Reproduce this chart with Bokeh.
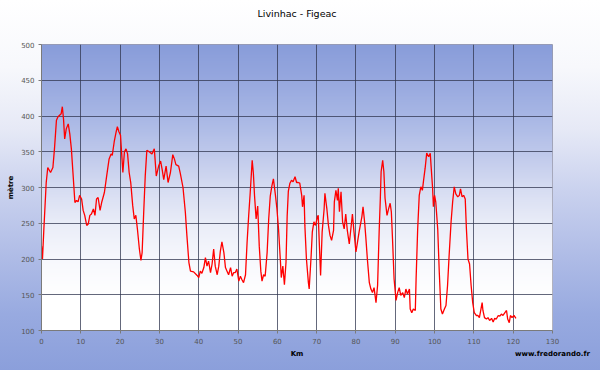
import numpy as np
from bokeh.plotting import figure
from bokeh.models import Range1d, FixedTicker, LinearAxis, Title
from bokeh.embed import file_html
from bokeh.resources import INLINE

# ---- data ----
km = [0.0, 0.25, 0.6, 1.2, 1.6, 2.3, 2.9, 3.3, 3.8, 4.2, 4.6, 5.0, 5.3, 5.6, 5.9, 6.3, 6.8, 7.2, 7.6, 8.0,
      8.5, 8.9, 9.3, 9.7, 10.2, 10.6, 11.0, 11.5, 11.9, 12.3, 12.7, 13.2, 13.6, 14.0, 14.4, 14.9, 15.3, 16.0,
      16.6, 17.2, 17.7, 18.0, 18.5, 19.0, 19.3, 19.7, 20.1, 20.4, 20.7, 21.1, 21.5, 21.9, 22.3, 22.7, 23.2,
      23.6, 24.0, 24.4, 24.9, 25.3, 25.6, 26.0, 26.4, 26.8, 27.4, 28.1, 28.7, 29.2, 29.8, 30.3, 30.7, 31.1,
      31.7, 32.2, 32.8, 33.4, 33.8, 34.2, 34.9, 35.3, 36.0, 36.6, 37.0, 37.5, 37.9, 38.7, 39.6, 40.0, 40.4,
      40.8, 41.3, 41.7, 42.1, 42.5, 43.0, 43.4, 43.8, 44.2, 44.7, 45.1, 45.5, 45.9, 46.4, 46.8, 47.2, 47.6,
      48.1, 48.5, 48.9, 49.3, 49.7, 50.2, 50.6, 51.0, 51.4, 51.9, 52.3, 52.7, 53.1, 53.4, 53.6, 53.9, 54.2,
      54.6, 55.0, 55.4, 55.8, 56.1, 56.5, 56.9, 57.4, 57.8, 58.2, 58.6, 59.0, 59.5, 59.9, 60.3, 60.8, 61.0,
      61.4, 61.8, 62.2, 62.5, 62.8, 63.2, 63.6, 64.0, 64.5, 64.9, 65.3, 65.7, 66.2, 66.4, 66.8, 67.0, 67.4,
      67.9, 68.1, 68.6, 68.9, 69.3, 69.7, 70.2, 70.4, 70.7, 71.0, 71.4, 71.9, 72.1, 72.6, 73.0, 73.4, 73.8,
      74.3, 74.5, 74.9, 75.3, 75.5, 75.8, 76.2, 76.6, 77.0, 77.4, 77.8, 78.3, 78.7, 79.1, 79.5, 80.0, 80.4,
      80.8, 81.1, 81.5, 81.8, 82.2, 82.5, 82.9, 83.4, 83.8, 84.2, 84.6, 85.1, 85.5, 85.9, 86.2, 86.4, 86.8,
      87.1, 87.4, 87.9, 88.3, 88.7, 89.0, 89.3, 89.7, 90.2, 90.6, 91.0, 91.4, 91.9, 92.3, 92.7, 93.1, 93.6,
      93.8, 94.2, 94.6, 95.1, 95.3, 95.7, 96.1, 96.5, 96.9, 97.2, 97.6, 98.0, 98.5, 98.9, 99.1, 99.5, 99.7,
      100.0, 100.3, 100.8, 101.2, 101.6, 102.0, 102.5, 102.9, 103.3, 103.7, 104.2, 104.6, 105.0, 105.4,
      105.9, 106.3, 106.6, 107.0, 107.4, 107.8, 108.1, 108.5, 108.9, 109.3, 109.7, 110.1, 110.6, 111.0,
      111.4, 111.8, 112.1, 112.3, 112.7, 113.2, 113.6, 114.0, 114.5, 114.9, 115.3, 115.7, 116.2, 116.6,
      117.0, 117.4, 117.9, 118.3, 118.6, 119.0, 119.3, 119.7, 120.2, 120.7]
alt = [218, 200, 242, 307, 328, 321, 328, 354, 394, 399, 401, 403, 413, 396, 368, 382, 389, 375, 354, 321,
       279, 282, 280, 289, 284, 268, 261, 247, 249, 261, 263, 270, 261, 284, 286, 268, 279, 293,
       317, 340, 347, 345, 364, 378, 385, 378, 373, 347, 321, 350, 354, 347, 321, 307, 275,
       256, 261, 242, 214, 198, 209, 265, 317, 352, 350, 347, 354, 316, 330, 337, 325, 311,
       330, 307, 321, 346, 340, 332, 330, 320, 300, 265, 232, 195, 183, 182, 177, 174, 183,
       180, 188, 202, 190, 197, 181, 193, 214, 190, 178, 190, 211, 224, 209, 188, 183, 178,
       188, 176, 181, 181, 186, 169, 176, 171, 167, 178, 223, 260, 293, 320, 338, 320, 288,
       256, 274, 218, 183, 169, 178, 176, 209, 256, 288, 302, 312, 290, 270, 242, 195, 174,
       190, 164, 195, 260, 295, 306, 310, 308, 315, 307, 307, 306, 289, 273, 289, 247, 200,
       167, 158, 205, 238, 252, 247, 259, 261, 219, 177, 238, 270, 292, 270, 247, 233, 226,
       240, 280, 296, 282, 299, 266, 294, 252, 242, 263, 240, 221, 242, 263, 238, 210, 224,
       238, 247, 259, 273, 252, 231, 200, 167, 158, 153, 160, 139, 163, 238, 285, 322, 338,
       322, 285, 261, 270, 278, 266, 228, 172, 142, 153, 160, 149, 153, 146, 158, 151, 158,
       130, 125, 130, 128, 172, 242, 289, 301, 296, 310, 327, 348, 343, 348, 331, 299, 273,
       289, 280, 242, 181, 130, 123, 130, 135, 163, 205, 252, 280, 301, 291,
       287, 289, 298, 287, 289, 284, 242, 200, 193, 163, 139, 125, 121, 121,
       118, 130, 139, 128, 118, 116, 118, 114, 117, 112, 117, 116, 121, 120,
       123, 121, 125, 128, 116, 111, 121, 118, 121, 117]

x_ticks = [0, 10, 20, 30, 40, 50, 60, 70, 80, 90, 100, 110, 120, 130]
y_ticks = [100, 150, 200, 250, 300, 350, 400, 450, 500]
title_text = "Livinhac - Figeac"
x_label = "Km"
y_label = "mètre"
credit = "www.fredorando.fr"

FONT = "DejaVu Sans"

p = figure(width=600, height=370, output_backend="svg", toolbar_location=None,
           x_range=Range1d(0, 130), y_range=Range1d(100, 500),
           min_border_left=41, min_border_right=48, min_border_top=44, min_border_bottom=40)
p.styles = {"background": "linear-gradient(to bottom, #ffffff 0%, #f7f8fc 18%, #e6e9f6 35%, "
                          "#c9d1ee 52%, #aebbe6 70%, #98aae0 85%, #8b9fdb 100%)"}
p.border_fill_color = None
p.background_fill_color = None
p.outline_line_color = "#9a9aaa"
p.outline_line_width = 1

# real title, pushed up by an empty spacer title between it and the frame
p.title.text = title_text
p.title.align = "center"
p.title.offset = 4
p.title.text_font = FONT
p.title.text_font_size = "9.5px"
p.title.text_font_style = "normal"
p.title.text_color = "#000000"
p.add_layout(Title(text=" ", text_font_size="7.5px"), "above")

# plot-area vertical gradient (blue at top -> white at bottom)
stops_v = np.array([100, 150, 200, 250, 300, 350, 400, 450, 500], dtype=float)
stops_c = np.array([[255, 255, 255], [255, 255, 255], [247, 248, 253], [234, 237, 248],
                    [214, 220, 242], [190, 200, 235], [168, 183, 229], [151, 168, 223],
                    [137, 157, 218]], dtype=float)
n = 300
vv = np.linspace(100, 500, n)
img = np.empty((n, 1), dtype=np.uint32)
view = img.view(dtype=np.uint8).reshape((n, 1, 4))
for ch in range(3):
    view[:, 0, ch] = np.interp(vv, stops_v, stops_c[:, ch]).astype(np.uint8)
view[:, 0, 3] = 255
bg = p.image_rgba(image=[img], x=0, y=100, dw=130, dh=400)
bg.level = "image"

# grid
for g in (p.xgrid, p.ygrid):
    g.grid_line_color = "#30354f"
    g.grid_line_alpha = 0.75
    g.grid_line_width = 1
p.xgrid.ticker = FixedTicker(ticks=x_ticks)
p.ygrid.ticker = FixedTicker(ticks=y_ticks)

p.line(km, alt, line_color="#ff0000", line_width=1.3)

for ax in (p.xaxis, p.yaxis):
    ax.axis_line_color = "#7a7a7a"
    ax.major_tick_line_color = "#7a7a7a"
    ax.major_tick_out = 3
    ax.major_tick_in = 0
    ax.minor_tick_line_color = None
    ax.major_label_text_font = FONT
    ax.major_label_text_font_size = "7px"
    ax.major_label_text_color = "#555555"
p.xaxis.ticker = FixedTicker(ticks=x_ticks)
p.yaxis.ticker = FixedTicker(ticks=y_ticks)
p.xaxis.major_label_standoff = 4
p.yaxis.major_label_standoff = 4

# y axis label
p.yaxis.axis_label = y_label
p.yaxis.axis_label_text_font = FONT
p.yaxis.axis_label_text_font_size = "7px"
p.yaxis.axis_label_text_font_style = "bold"
p.yaxis.axis_label_text_color = "#000000"
p.yaxis.axis_label_standoff = 3

# second row below the x axis: "Km" (centred) and the credit (right)
lab_ax = LinearAxis(ticker=FixedTicker(ticks=[65, 130]),
                    major_label_overrides={65: x_label, 130: credit})
lab_ax.axis_line_color = None
lab_ax.major_tick_line_color = None
lab_ax.minor_tick_line_color = None
lab_ax.major_tick_out = 0
lab_ax.major_tick_in = 0
lab_ax.major_label_standoff = 3
lab_ax.major_label_text_font = FONT
lab_ax.major_label_text_font_size = "7px"
lab_ax.major_label_text_font_style = "bold"
lab_ax.major_label_text_color = "#000000"
p.add_layout(lab_ax, "below")

open("out.html", "w").write(file_html(p, INLINE))
